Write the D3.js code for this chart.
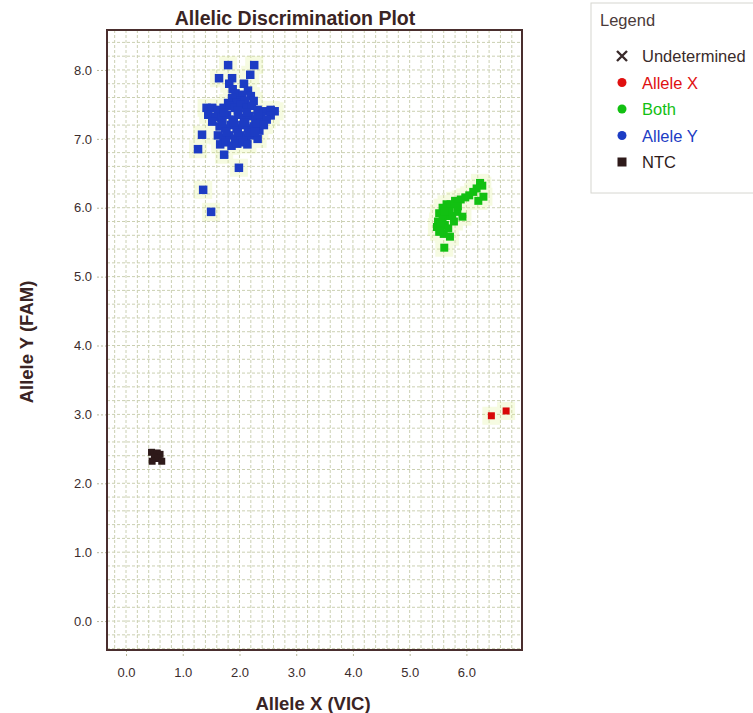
<!DOCTYPE html>
<html>
<head>
<meta charset="utf-8">
<script src="https://cdn.jsdelivr.net/npm/d3@7/dist/d3.min.js"></script>
<style>
  body { margin: 0; background: #fff; }
  svg { display: block; font-family: "Liberation Sans", Arial, sans-serif; }
</style>
</head>
<body>
<div id="chart"></div>
<script>
const width = 753;
const height = 713;

// tick labels
const xTicks = [0, 1, 2, 3, 4, 5, 6];
const yTicks = [0, 1, 2, 3, 4, 5, 6, 7, 8];

// Allele Y (FAM) cluster
const alleleY = [
  [1.80, 8.07], [2.26, 8.07], [1.64, 7.88], [1.87, 7.88], [2.19, 7.93],
  [1.82, 7.80], [1.88, 7.72], [1.93, 7.66], [2.08, 7.80], [2.15, 7.70],
  [2.05, 7.64], [2.20, 7.62], [2.00, 7.56], [1.87, 7.59], [2.10, 7.55],
  [1.95, 7.52], [2.25, 7.55], [1.80, 7.52],
  [1.42, 7.45], [1.52, 7.45], [1.62, 7.42], [1.72, 7.45], [1.82, 7.48],
  [1.92, 7.45], [2.02, 7.50], [2.12, 7.45], [2.22, 7.48], [2.32, 7.42],
  [2.42, 7.40], [2.55, 7.42], [2.62, 7.40], [2.55, 7.34], [1.97, 7.41],
  [1.45, 7.35], [1.58, 7.32], [1.68, 7.30], [1.78, 7.35], [1.88, 7.28],
  [1.98, 7.35], [2.08, 7.30], [2.18, 7.33], [2.28, 7.28], [2.38, 7.32],
  [2.48, 7.28], [1.52, 7.25], [1.73, 7.38], [2.13, 7.38], [2.33, 7.36],
  [1.65, 7.18], [1.75, 7.15], [1.85, 7.20], [1.95, 7.15], [2.05, 7.20],
  [2.15, 7.15], [2.25, 7.18], [2.35, 7.12], [1.90, 7.24], [2.10, 7.24],
  [2.30, 7.22], [1.70, 7.23], [2.43, 7.20],
  [1.62, 7.05], [1.72, 7.02], [1.82, 7.05], [1.92, 7.00], [2.02, 7.05],
  [2.12, 7.02], [2.22, 7.05], [2.32, 7.00], [1.77, 7.10], [1.97, 7.09],
  [2.17, 7.09], [2.27, 7.10],
  [1.66, 6.92], [1.76, 6.95], [1.86, 6.90], [1.96, 6.93], [2.06, 6.95],
  [2.14, 6.92], [1.34, 7.06], [1.27, 6.85], [1.73, 6.77], [1.99, 6.58],
  [1.36, 6.26], [1.50, 5.94]
];

// Both (heterozygote) cluster
const both = [
  [6.24, 6.36], [6.28, 6.32], [6.30, 6.16], [6.12, 6.23], [6.21, 6.10],
  [6.05, 6.18], [5.98, 6.15], [5.90, 6.12], [5.80, 6.10], [5.72, 6.05],
  [5.65, 6.05], [5.58, 6.00], [5.52, 5.92], [5.50, 5.80], [5.48, 5.72],
  [5.55, 5.68], [5.62, 5.75], [5.65, 5.88], [5.70, 5.95], [5.84, 5.94],
  [5.93, 5.87], [5.78, 5.80], [5.60, 5.62], [5.71, 5.58], [5.61, 5.42],
  [5.52, 5.65], [5.58, 5.85], [5.68, 5.70], [5.75, 5.88], [5.55, 5.78],
  [5.62, 5.95], [5.85, 6.02], [6.18, 6.28]
];

// Allele X (VIC)
const alleleX = [[6.44, 2.98], [6.70, 3.05]];

// No template controls
const ntc = [
  [0.45, 2.45], [0.55, 2.44], [0.60, 2.42], [0.50, 2.38],
  [0.57, 2.36], [0.46, 2.32], [0.63, 2.32]
];

const legendItems = [
  { label: "Undetermined", color: "#3a2b2b", shape: "x" },
  { label: "Allele X", color: "#e01010", shape: "dot" },
  { label: "Both", color: "#12c012", shape: "dot" },
  { label: "Allele Y", color: "#1c3cc4", shape: "dot" },
  { label: "NTC", color: "#2e1a1a", shape: "square" }
];

const margin = { top: 30, right: 231, bottom: 63, left: 107 };
const plotW = width - margin.left - margin.right;
const plotH = height - margin.top - margin.bottom;

const x = d3.scaleLinear().domain([-0.335, 6.98]).range([0, plotW]);
const y = d3.scaleLinear().domain([-0.42, 8.58]).range([plotH, 0]);

const svg = d3.select("#chart")
  .append("svg")
  .attr("width", width)
  .attr("height", height);

const g = svg.append("g")
  .attr("transform", `translate(${margin.left},${margin.top})`);

// fine dotted grid every 0.2
const gridX = d3.range(-0.2, 6.99, 0.2);
const gridY = d3.range(-0.4, 8.59, 0.2);

g.append("g")
  .selectAll("line")
  .data(gridX)
  .join("line")
  .attr("x1", d => x(d)).attr("x2", d => x(d))
  .attr("y1", 0).attr("y2", plotH)
  .attr("stroke", "#cbd0b2")
  .attr("stroke-dasharray", "3,2");

g.append("g")
  .selectAll("line")
  .data(gridY)
  .join("line")
  .attr("y1", d => y(d)).attr("y2", d => y(d))
  .attr("x1", 0).attr("x2", plotW)
  .attr("stroke", "#cbd0b2")
  .attr("stroke-dasharray", "3,2");

// axes
const xAxis = g.append("g")
  .attr("transform", `translate(0,${plotH})`)
  .call(d3.axisBottom(x).tickValues(xTicks).tickFormat(d3.format(".1f")).tickSize(8).tickPadding(10));

const yAxis = g.append("g")
  .call(d3.axisLeft(y).tickValues(yTicks).tickFormat(d3.format(".1f")).tickSize(12).tickPadding(3));

[xAxis, yAxis].forEach(a => {
  a.select(".domain").remove();
  a.selectAll(".tick line")
    .attr("stroke", "#b7b79a")
    .attr("stroke-dasharray", "2,2");
  a.selectAll(".tick text")
    .attr("fill", "#3b2c2c")
    .style("font-size", "13px");
});

// faint halos round the clusters
const halo = g.append("g").attr("opacity", 0.25);
halo.selectAll("rect")
  .data(alleleY.concat(both, alleleX))
  .join("rect")
  .attr("x", d => x(d[0]) - 9)
  .attr("y", d => y(d[1]) - 9)
  .attr("width", 18)
  .attr("height", 18)
  .attr("fill", "#dcf08a");

function squares(data, color, size) {
  g.append("g")
    .selectAll("rect")
    .data(data)
    .join("rect")
    .attr("x", d => x(d[0]) - size / 2)
    .attr("y", d => y(d[1]) - size / 2)
    .attr("width", size)
    .attr("height", size)
    .attr("fill", color);
}

squares(alleleY, "#1c3cc4", 8.5);
squares(both, "#12c012", 8);
squares(alleleX, "#d80808", 7);
squares(ntc, "#2e1a1a", 7);

// frame
g.append("rect")
  .attr("width", plotW)
  .attr("height", plotH)
  .attr("fill", "none")
  .attr("stroke", "#4a2e2e")
  .attr("stroke-width", 2);

// titles
svg.append("text")
  .attr("x", 295)
  .attr("y", 25)
  .attr("text-anchor", "middle")
  .attr("fill", "#3a2424")
  .style("font-size", "19.5px")
  .style("font-weight", "bold")
  .text("Allelic Discrimination Plot");

svg.append("text")
  .attr("x", 313)
  .attr("y", 710)
  .attr("text-anchor", "middle")
  .attr("fill", "#3a2424")
  .style("font-size", "18.5px")
  .style("font-weight", "bold")
  .text("Allele X (VIC)");

svg.append("text")
  .attr("transform", "translate(33,342) rotate(-90)")
  .attr("text-anchor", "middle")
  .attr("fill", "#3a2424")
  .style("font-size", "18.5px")
  .style("font-weight", "bold")
  .text("Allele Y (FAM)");

// legend
const legend = svg.append("g").attr("transform", "translate(591,3)");

legend.append("rect")
  .attr("width", 170)
  .attr("height", 190)
  .attr("fill", "#fff")
  .attr("stroke", "#d6d6d0");

legend.append("text")
  .attr("x", 9)
  .attr("y", 23)
  .attr("fill", "#4a3a3a")
  .style("font-size", "16.5px")
  .text("Legend");

const item = legend.selectAll("g.item")
  .data(legendItems)
  .join("g")
  .attr("class", "item")
  .attr("transform", (d, i) => `translate(31,${53 + i * 26.5})`);

item.each(function (d) {
  const s = d3.select(this);
  if (d.shape === "x") {
    s.append("path")
      .attr("d", "M-5,-5L5,5M5,-5L-5,5")
      .attr("stroke", d.color)
      .attr("stroke-width", 2.4);
  } else if (d.shape === "dot") {
    s.append("circle").attr("r", 4.5).attr("fill", d.color);
  } else {
    s.append("rect")
      .attr("x", -4.5).attr("y", -4.5)
      .attr("width", 9).attr("height", 9)
      .attr("fill", d.color);
  }
});

item.append("text")
  .attr("x", 20)
  .attr("y", 6)
  .attr("fill", d => d.color)
  .style("font-size", "16.5px")
  .text(d => d.label);
</script>
</body>
</html>
